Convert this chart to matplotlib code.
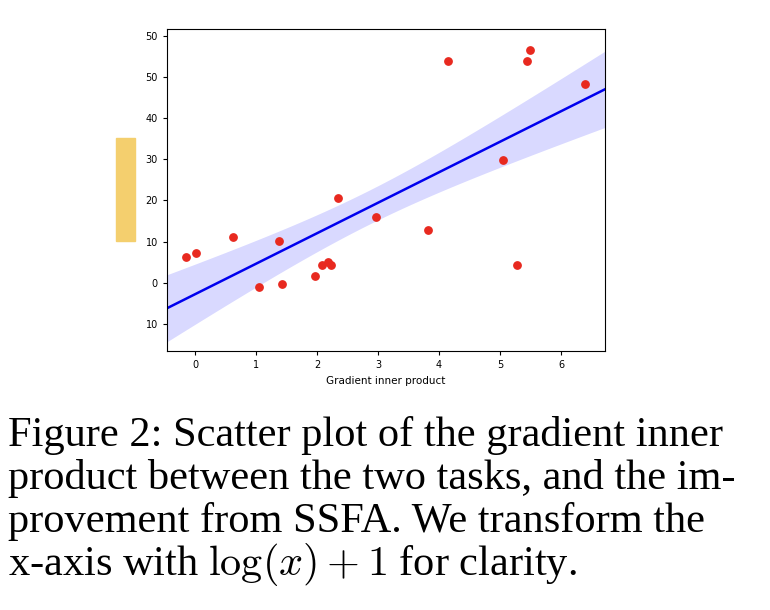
import matplotlib
matplotlib.use("Agg")
import matplotlib.pyplot as plt
import numpy as np
from matplotlib.patches import Rectangle

# data
grad_x = [-0.15, 0.02, 0.62, 1.05, 1.38, 1.43, 1.97, 2.08, 2.18, 2.23,
          2.34, 2.97, 3.82, 4.15, 5.05, 5.28, 5.44, 5.49, 6.39]
improve_y = [6.3, 7.3, 11.0, -1.0, 10.2, -0.3, 1.7, 4.4, 5.1, 4.4,
             20.5, 16.1, 12.9, 53.9, 29.8, 4.4, 53.9, 56.6, 48.3]
y_ticks = [-10, 0, 10, 20, 30, 40, 50, 60]
y_tick_labels = ["10", "0", "10", "20", "30", "40", "50", "50"]  # clipped in the source
x_ticks = [0, 1, 2, 3, 4, 5, 6]

plt.rcParams["mathtext.fontset"] = "cm"
fig = plt.figure(figsize=(7.7, 6.1), dpi=100)
ax = fig.add_axes([167 / 770, 1 - 351 / 610, 438 / 770, 322 / 610])

x = np.array(grad_x)
y = np.array(improve_y)
xlim = (-0.46, 6.72)

# linear fit with a confidence band
slope, icpt = np.polyfit(x, y, 1)
n = len(x)
resid = y - (slope * x + icpt)
s = np.sqrt(np.sum(resid ** 2) / (n - 2))
xs = np.linspace(xlim[0], xlim[1], 200)
se = s * np.sqrt(1 / n + (xs - x.mean()) ** 2 / np.sum((x - x.mean()) ** 2))
fit = slope * xs + icpt
ax.fill_between(xs, fit - 1.3 * se, fit + 1.3 * se, color="#0000ff", alpha=0.15, lw=0)
ax.plot(xs, fit, color="#0000ee", lw=1.8)
ax.scatter(x, y, color="#e8291f", s=28, zorder=3)

ax.set_xlim(*xlim)
ax.set_ylim(-16.6, 61.7)
ax.set_xticks(x_ticks)
ax.set_yticks(y_ticks)
ax.set_yticklabels(y_tick_labels)
ax.tick_params(labelsize=7, length=3)
ax.set_xlabel("Gradient inner product", fontsize=7.5)

fig.patches.append(Rectangle((116 / 770, 1 - 241 / 610), 19 / 770, 103 / 610,
                             transform=fig.transFigure, color="#f4cf6e"))

caption = [
    "Figure 2: Scatter plot of the gradient inner",
    "product between the two tasks, and the im-",
    "provement from SSFA. We transform the",
    r"x-axis with $\log(x) + 1$ for clarity.",
]
for i, line in enumerate(caption):
    fig.text(8 / 770, 1 - (446 + i * 43) / 610, line, fontsize=30.5,
             family="Liberation Serif", va="baseline")

fig.savefig("out.png", dpi=100)
